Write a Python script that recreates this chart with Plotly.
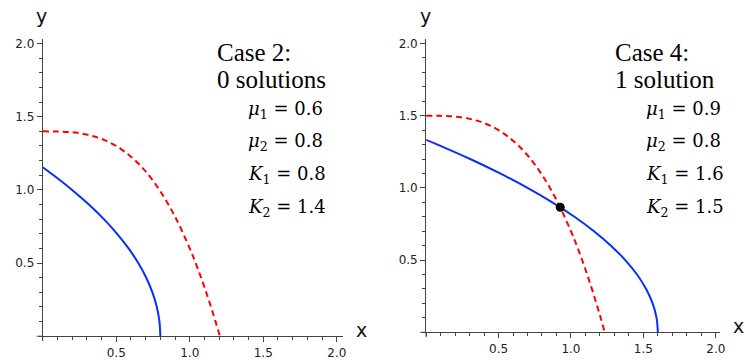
import plotly.graph_objects as go

# ---- data ----
# Case 2 (left panel)
c2_blue_y = [0.0, 0.1, 0.2, 0.3, 0.4, 0.5, 0.6, 0.7, 0.8, 0.9, 1.0, 1.1, 1.155]
c2_blue_x = [0.8, 0.794, 0.776, 0.746, 0.704, 0.65, 0.584, 0.506, 0.416, 0.314, 0.2, 0.074, 0.0]
c2_red_x = [0.0, 0.1, 0.2, 0.3, 0.4, 0.5, 0.6, 0.7, 0.8, 0.9, 1.0, 1.05, 1.1, 1.15, 1.205]
c2_red_y = [1.4, 1.399, 1.394, 1.378, 1.349, 1.3, 1.227, 1.126, 0.990, 0.817, 0.6, 0.474, 0.335, 0.183, 0.0]

# Case 4 (right panel)
c4_blue_y = [0.0, 0.1, 0.2, 0.3, 0.4, 0.5, 0.6, 0.7, 0.8, 0.9, 1.0, 1.1, 1.2, 1.3, 1.333]
c4_blue_x = [1.6, 1.591, 1.564, 1.519, 1.456, 1.375, 1.276, 1.159, 1.024, 0.871, 0.7, 0.511, 0.304, 0.079, 0.0]
c4_red_x = [0.0, 0.1, 0.2, 0.3, 0.4, 0.5, 0.6, 0.7, 0.8, 0.9, 1.0, 1.05, 1.1, 1.15, 1.2, 1.233]
c4_red_y = [1.5, 1.499, 1.494, 1.478, 1.449, 1.4, 1.327, 1.226, 1.090, 0.917, 0.7, 0.574, 0.435, 0.283, 0.118, 0.0]
c4_sol_x = [0.926]
c4_sol_y = [0.866]

tick_vals = [0.5, 1.0, 1.5, 2.0]
tick_text = ["0.5", "1.0", "1.5", "2.0"]

case_titles = [["Case 2:", "0 solutions"], ["Case 4:", "1 solution"]]
params = [
    [("μ", "1", "0.6"), ("μ", "2", "0.8"), ("K", "1", "0.8"), ("K", "2", "1.4")],
    [("μ", "1", "0.9"), ("μ", "2", "0.8"), ("K", "1", "1.6"), ("K", "2", "1.5")],
]

W, H = 745, 360
BLUE = "#0a2cff"
RED = "#ff0000"
AX = "#444444"

fig = go.Figure()

fig.add_trace(go.Scatter(x=c2_blue_x, y=c2_blue_y, mode="lines", line=dict(color=BLUE, width=2, shape="spline"),
                         xaxis="x", yaxis="y", showlegend=False))
fig.add_trace(go.Scatter(x=c2_red_x, y=c2_red_y, mode="lines", line=dict(color=RED, width=2, dash="6px,4px", shape="spline"),
                         xaxis="x", yaxis="y", showlegend=False))
fig.add_trace(go.Scatter(x=c4_blue_x, y=c4_blue_y, mode="lines", line=dict(color=BLUE, width=2, shape="spline"),
                         xaxis="x2", yaxis="y2", showlegend=False))
fig.add_trace(go.Scatter(x=c4_red_x, y=c4_red_y, mode="lines", line=dict(color=RED, width=2, dash="6px,4px", shape="spline"),
                         xaxis="x2", yaxis="y2", showlegend=False))
fig.add_trace(go.Scatter(x=c4_sol_x, y=c4_sol_y, mode="markers", marker=dict(color="black", size=9),
                         xaxis="x2", yaxis="y2", showlegend=False))

# panel geometry in pixels
panels = [
    dict(x0=43, x1=345, xr=2.04, yb=338, yt=37, yr=2.034),
    dict(x0=429, x1=725, xr=2.03, yb=334, yt=37, yr=2.034),
]

def axis_common():
    return dict(
        showgrid=False, zeroline=False, showline=True, linecolor=AX, linewidth=1,
        ticks="outside", ticklen=5, tickwidth=1, tickcolor=AX,
        tickvals=tick_vals, ticktext=tick_text,
        tickfont=dict(family="DejaVu Sans", size=12, color="#222222"),
        minor=dict(dtick=0.1, ticks="outside", ticklen=3, tickcolor=AX, tickwidth=1, showgrid=False),
        fixedrange=True,
    )

layout = dict(width=W, height=H, margin=dict(l=0, r=0, t=0, b=0),
              plot_bgcolor="white", paper_bgcolor="white", showlegend=False)

shapes = []
annotations = []
for i, p in enumerate(panels):
    sx = "" if i == 0 else "2"
    xa = axis_common()
    xa.update(domain=[p["x0"] / W, p["x1"] / W], range=[0, p["xr"]], anchor="y" + sx)
    ya = axis_common()
    ya.update(domain=[1 - p["yb"] / H, 1 - p["yt"] / H], range=[0, p["yr"]], anchor="x" + sx)
    layout["xaxis" + sx] = xa
    layout["yaxis" + sx] = ya
    shapes.append(dict(type="line", xref="paper", yref="paper",
                       x0=(p["x0"] - 6) / W, x1=p["x0"] / W, y0=1 - p["yb"] / H, y1=1 - p["yb"] / H,
                       line=dict(color=AX, width=1)))
    shapes.append(dict(type="line", xref="paper", yref="paper",
                       x0=p["x0"] / W, x1=p["x0"] / W, y0=1 - (p["yb"] + 5) / H, y1=1 - p["yb"] / H,
                       line=dict(color=AX, width=1)))
    annotations.append(dict(text="x", xref="paper", yref="paper", x=(p["x1"] + 11) / W, y=1 - (p["yb"] - 6) / H,
                            xanchor="left", yanchor="middle", showarrow=False,
                            font=dict(family="DejaVu Sans", size=19, color="#111111")))
    annotations.append(dict(text="y", xref="paper", yref="paper", x=(p["x0"] - 1) / W, y=1 - 14 / H,
                            xanchor="center", yanchor="middle", showarrow=False,
                            font=dict(family="DejaVu Sans", size=19, color="#111111")))

title_x = [216, 617]
param_x = [248, 648]
for i in range(2):
    for j, t in enumerate(case_titles[i]):
        annotations.append(dict(text=t, xref="paper", yref="paper", x=title_x[i] / W, y=1 - (51 + 27 * j) / H,
                                xanchor="left", yanchor="middle", showarrow=False,
                                font=dict(family="Liberation Serif", size=25, color="black")))
    for j, (sym, sub, val) in enumerate(params[i]):
        txt = f"<i>{sym}</i><sub>{sub}</sub> = {val}"
        annotations.append(dict(text=txt, xref="paper", yref="paper", x=param_x[i] / W, y=1 - (109 + 33 * j) / H,
                                xanchor="left", yanchor="middle", showarrow=False,
                                font=dict(family="DejaVu Serif", size=18, color="black")))

layout["shapes"] = shapes
layout["annotations"] = annotations
fig.update_layout(**layout)

fig.write_html("out.html", config={"displayModeBar": False},
               post_script="document.body.style.margin='0';document.body.style.overflow='hidden';")
